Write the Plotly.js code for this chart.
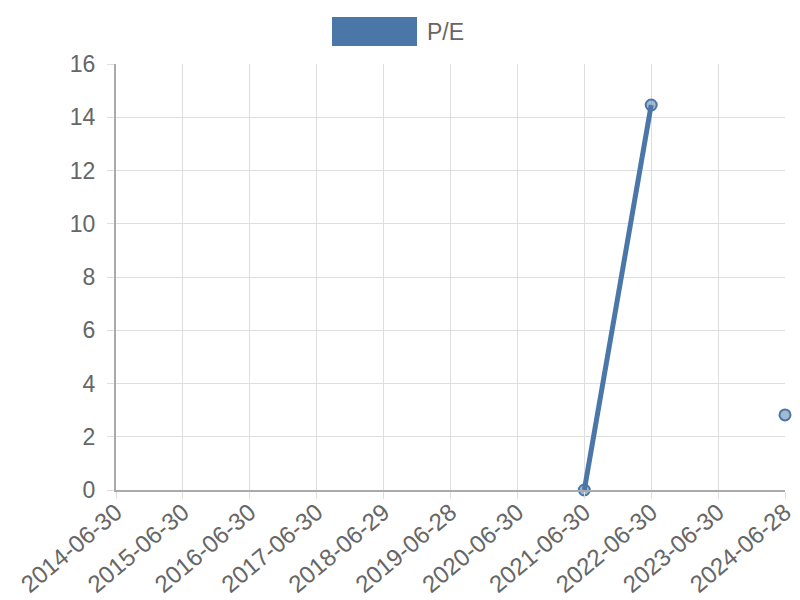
<!DOCTYPE html>
<html>
<head>
<meta charset="utf-8">
<script src="https://cdn.plot.ly/plotly-3.0.1.min.js"></script>
<style>html,body{margin:0;padding:0;background:#fff;}#chart{width:800px;height:600px;}</style>
</head>
<body>
<div id="chart"></div>
<script>
const categories = ["2014-06-30","2015-06-30","2016-06-30","2017-06-30","2018-06-29","2019-06-28","2020-06-30","2021-06-30","2022-06-30","2023-06-30","2024-06-28"];
const peValues = [null,null,null,null,null,null,null,0,14.46,null,2.82];
const seriesName = "P/E";
const yTicks = [0,2,4,6,8,10,12,14,16];

const lineColor = "rgb(74,118,168)";
const trace = {
  x: categories,
  y: peValues,
  type: "scatter",
  mode: "lines+markers",
  name: seriesName,
  connectgaps: false,
  cliponaxis: false,
  line: {color: lineColor, width: 5},
  marker: {size: 11, color: "rgba(74,118,168,0.5)", line: {color: lineColor, width: 2}},
  showlegend: false
};

const font = {family: "Liberation Sans, Arial, sans-serif", size: 23, color: "#666"};
const xFont = {family: "Liberation Sans, Arial, sans-serif", size: 24, color: "#666"};
const gridColor = "#dedede";
const layout = {
  width: 800, height: 600,
  margin: {l: 116, r: 15, t: 64, b: 110},
  paper_bgcolor: "#fff", plot_bgcolor: "#fff",
  font: font,
  showlegend: false,
  xaxis: {
    type: "category",
    range: [0, categories.length - 1],
    tickangle: -40,
    showgrid: true, gridcolor: gridColor, gridwidth: 1,
    ticks: "outside", ticklen: 7, tickcolor: gridColor,
    showline: true, linecolor: "#aaa", linewidth: 2,
    zeroline: false,
    tickfont: xFont,
    ticklabelstandoff: -10,
    fixedrange: true
  },
  yaxis: {
    range: [0, 16],
    tickvals: yTicks,
    showgrid: true, gridcolor: gridColor, gridwidth: 1,
    ticks: "outside", ticklen: 7, tickcolor: gridColor,
    showline: true, linecolor: "#aaa", linewidth: 2,
    zeroline: false,
    tickfont: font,
    ticklabelstandoff: 7,
    fixedrange: true
  },
  shapes: [{
    type: "rect", xref: "paper", yref: "paper",
    x0: (332 - 116) / 669, x1: (417 - 116) / 669,
    y0: (490 - 46) / 426, y1: (490 - 17) / 426,
    fillcolor: lineColor, line: {width: 0}
  }],
  annotations: [{
    xref: "paper", yref: "paper",
    x: (425 - 116) / 669, y: (490 - 32) / 426,
    xanchor: "left", yanchor: "middle",
    text: seriesName, showarrow: false,
    font: font
  }]
};

Plotly.newPlot("chart", [trace], layout, {displayModeBar: false, staticPlot: true});
</script>
</body>
</html>
